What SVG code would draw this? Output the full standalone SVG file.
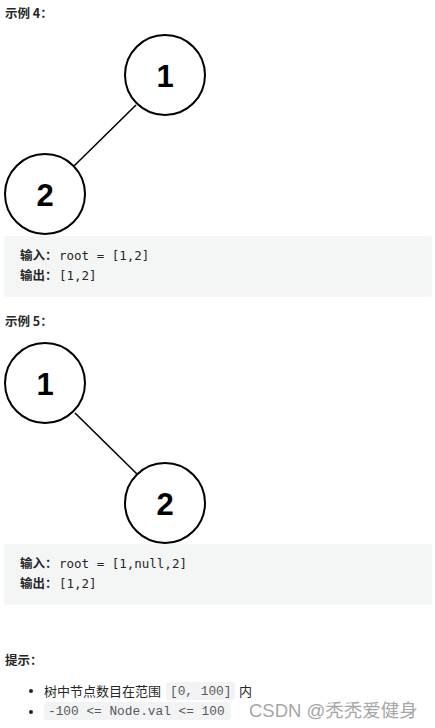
<svg xmlns="http://www.w3.org/2000/svg" width="435" height="728" viewBox="0 0 435 728">
<style>
.h{font-family:"Noto Sans CJK SC","Liberation Sans",sans-serif;font-size:12.5px;font-weight:bold;fill:#262626}
.node circle{fill:#fff;stroke:#000;stroke-width:2}
.node text{font-family:"Liberation Sans",Arial,sans-serif;font-size:31px;font-weight:bold;fill:#000;text-anchor:middle}
.edge{stroke:#000;stroke-width:1.6}
.box{fill:#f4f5f5}
.cn{font-family:"Noto Sans CJK SC",sans-serif;font-size:12.5px;font-weight:bold;fill:#262626}
.mono{font-family:"DejaVu Sans Mono","Liberation Mono",monospace;font-size:12.5px;fill:#262626}
.t{font-family:"Noto Sans CJK SC",sans-serif;font-size:13px;fill:#262626}
.cbg{fill:#f2f3f4}
.code{font-family:"Liberation Mono",monospace;font-size:12.8px;fill:#595959}
.wm{font-family:"Liberation Sans","Noto Sans CJK SC",sans-serif;font-size:18.5px;fill:#a6a6a6}
</style>
<rect width="435" height="728" fill="#fff"/>
<text class="h" x="5" y="18">示例 4：</text>
<g id="connectors">
<line class="edge" x1="136" y1="105" x2="74" y2="166"/>
<line class="edge" x1="75" y1="413" x2="137" y2="474"/>
</g>
<g id="ex4-node1" class="node"><circle cx="165" cy="75" r="40"/><text x="165" y="87">1</text></g>
<g id="ex4-node2" class="node"><circle cx="45" cy="194" r="40"/><text x="45" y="206">2</text></g>
<rect class="box" x="4" y="236" width="428" height="61" rx="3"/>
<text x="20" y="260"><tspan class="cn">输入：</tspan><tspan class="mono" x="59">root = [1,2]</tspan></text>
<text x="20" y="280"><tspan class="cn">输出：</tspan><tspan class="mono" x="59">[1,2]</tspan></text>
<text class="h" x="5" y="326">示例 5：</text>
<g id="ex5-node1" class="node"><circle cx="45" cy="383" r="40"/><text x="45" y="395">1</text></g>
<g id="ex5-node2" class="node"><circle cx="165" cy="503" r="40"/><text x="165" y="515">2</text></g>
<rect class="box" x="4" y="544" width="428" height="61" rx="3"/>
<text x="20" y="568"><tspan class="cn">输入：</tspan><tspan class="mono" x="59">root = [1,null,2]</tspan></text>
<text x="20" y="588"><tspan class="cn">输出：</tspan><tspan class="mono" x="59">[1,2]</tspan></text>
<text class="h" x="5" y="665">提示：</text>
<circle cx="31" cy="691" r="2" fill="#262626"/>
<text class="t" x="44" y="696">树中节点数目在范围</text>
<rect class="cbg" x="166" y="682" width="69" height="18" rx="3"/>
<text class="code" x="170" y="695">[0, 100]</text>
<text class="t" x="239" y="696">内</text>
<circle cx="31" cy="712" r="2" fill="#262626"/>
<rect class="cbg" x="44" y="702" width="187" height="18" rx="3"/>
<text class="code" x="48" y="715">-100 &lt;= Node.val &lt;= 100</text>
<text class="wm" x="249" y="717">CSDN @秃秃爱健身</text>
</svg>
